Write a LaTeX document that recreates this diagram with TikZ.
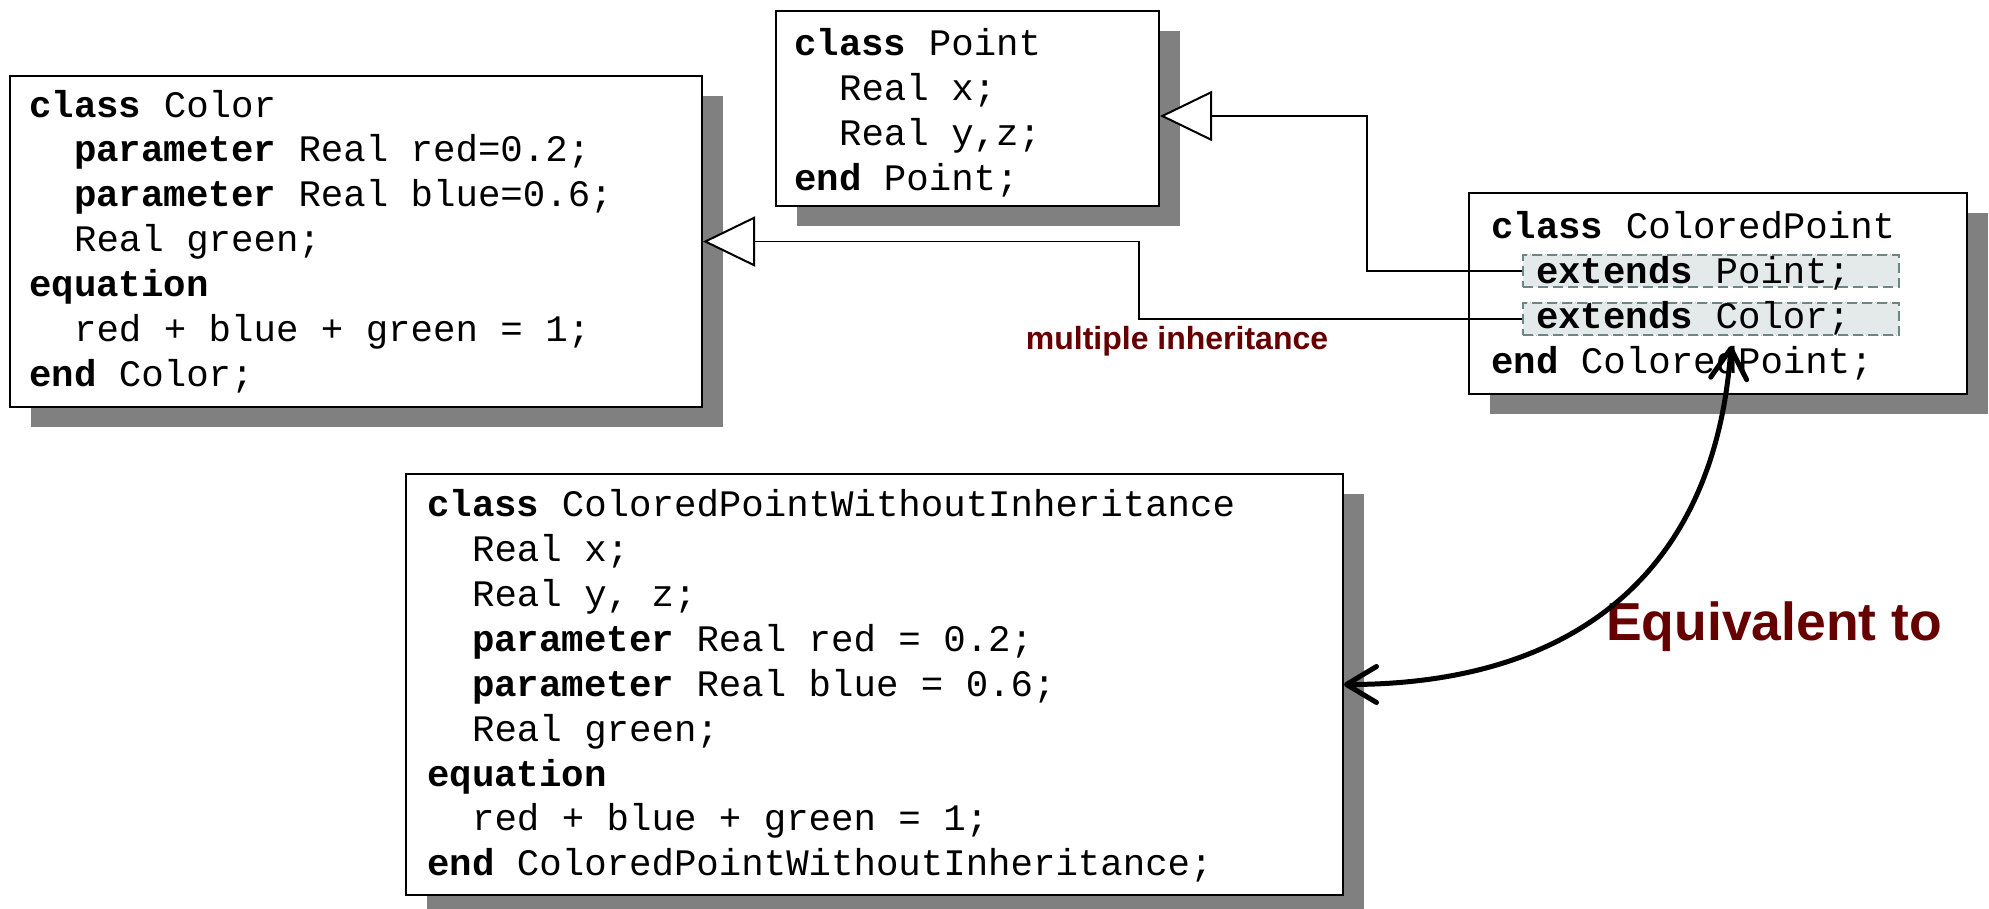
\documentclass[tikz,border=0pt]{standalone}
\usepackage{fontspec}
\setmainfont{Liberation Sans}
\setsansfont{Liberation Sans}
\setmonofont{Liberation Mono}
\usetikzlibrary{arrows.meta,shadows,patterns}
\definecolor{shadowgray}{HTML}{808080}
\definecolor{labelred}{HTML}{660000}
\definecolor{hlfill}{HTML}{E4EAEA}
\definecolor{hlgrid}{HTML}{B4C0C0}
\definecolor{hlborder}{HTML}{6B8686}
\newcommand{\kw}[1]{\textbf{#1}}
\newcommand{\ind}{\phantom{xx}}

\begin{document}
\begin{tikzpicture}[x=1pt,y=-1pt,
  classbox/.style={draw=black, line width=2pt, fill=white, anchor=north west, inner sep=0pt,
    drop shadow={shadow xshift=21pt, shadow yshift=-20pt, fill=shadowgray, opacity=1}},
  code/.style={anchor=west, inner sep=0pt, align=left,
    font=\fontsize{37.4}{44.9}\selectfont\ttfamily},
  hilite/.style={draw=hlborder, fill=hlfill, line width=2pt, dash pattern=on 10pt off 5pt,
    inner sep=0pt, anchor=north west,
    preaction={pattern=grid, pattern color=hlgrid}},
  inherit/.style={draw=black, line width=1.6pt,
    -{Triangle[length=52pt, width=50pt, fill=white, line width=2pt]}},
  equivarrow/.style={draw=black, line width=5pt, line cap=round,
    {Straight Barb[length=30pt, width=36pt, round]}-{Straight Barb[length=30pt, width=36pt, round]}},
  redlabel/.style={text=labelred, inner sep=0pt}
]
\useasboundingbox (0,0) rectangle (1989,909);

% class boxes
\node[classbox, minimum width=692pt, minimum height=331pt] (color) at (9,75) {};
\node[classbox, minimum width=383pt, minimum height=195pt] (point) at (775,10) {};
\node[classbox, minimum width=498pt, minimum height=201pt] (cp) at (1468,192) {};
\node[classbox, minimum width=937pt, minimum height=421pt] (eqbox) at (405,473) {};

% highlighted extends clauses
\node[hilite, minimum width=376pt, minimum height=32pt] (extP) at (1522,254) {};
\node[hilite, minimum width=376pt, minimum height=32pt] (extC) at (1522,302) {};

% class listings
\node[code] (colortext) at ([xshift=20pt]color.west) {%
\kw{class} Color\\
\ind\kw{parameter} Real red=0.2;\\
\ind\kw{parameter} Real blue=0.6;\\
\ind Real green;\\
\kw{equation}\\
\ind red + blue + green = 1;\\
\kw{end} Color;};

\node[code] (pointtext) at ([xshift=19pt, yshift=-4.5pt]point.west) {%
\kw{class} Point\\
\ind Real x;\\
\ind Real y,z;\\
\kw{end} Point;};

\node[code] (cptext) at ([xshift=23pt, yshift=-2.5pt]cp.west) {%
\kw{class} ColoredPoint\\
\ind\kw{extends} Point;\\
\ind\kw{extends} Color;\\
\kw{end} ColoredPoint;};

\node[code] (eqtext) at ([xshift=22pt, yshift=-1.5pt]eqbox.west) {%
\kw{class} ColoredPointWithoutInheritance\\
\ind Real x;\\
\ind Real y, z;\\
\ind\kw{parameter} Real red = 0.2;\\
\ind\kw{parameter} Real blue = 0.6;\\
\ind Real green;\\
\kw{equation}\\
\ind red + blue + green = 1;\\
\kw{end} ColoredPointWithoutInheritance;};

% inheritance connectors
\draw[inherit] (extP.west) -- ++(-155,0) |- ([yshift=-7.5pt]point.east);
\draw[inherit] (extC.west) -- ++(-383,0) |- (color.east);

% labels
\node[redlabel, font=\bfseries\fontsize{32}{38}\selectfont] (multi) at (1177,341) {multiple inheritance};
\node[redlabel, anchor=base west, font=\bfseries\fontsize{53.5}{60}\selectfont] (equiv) at (1606,640) {Equivalent to};

% equivalence arrow
\coordinate (eqtop) at (1731,346);
\draw[equivarrow] (eqtop) .. controls +(-16,225) and +(232,0) .. (eqbox.east);
\end{tikzpicture}
\end{document}
